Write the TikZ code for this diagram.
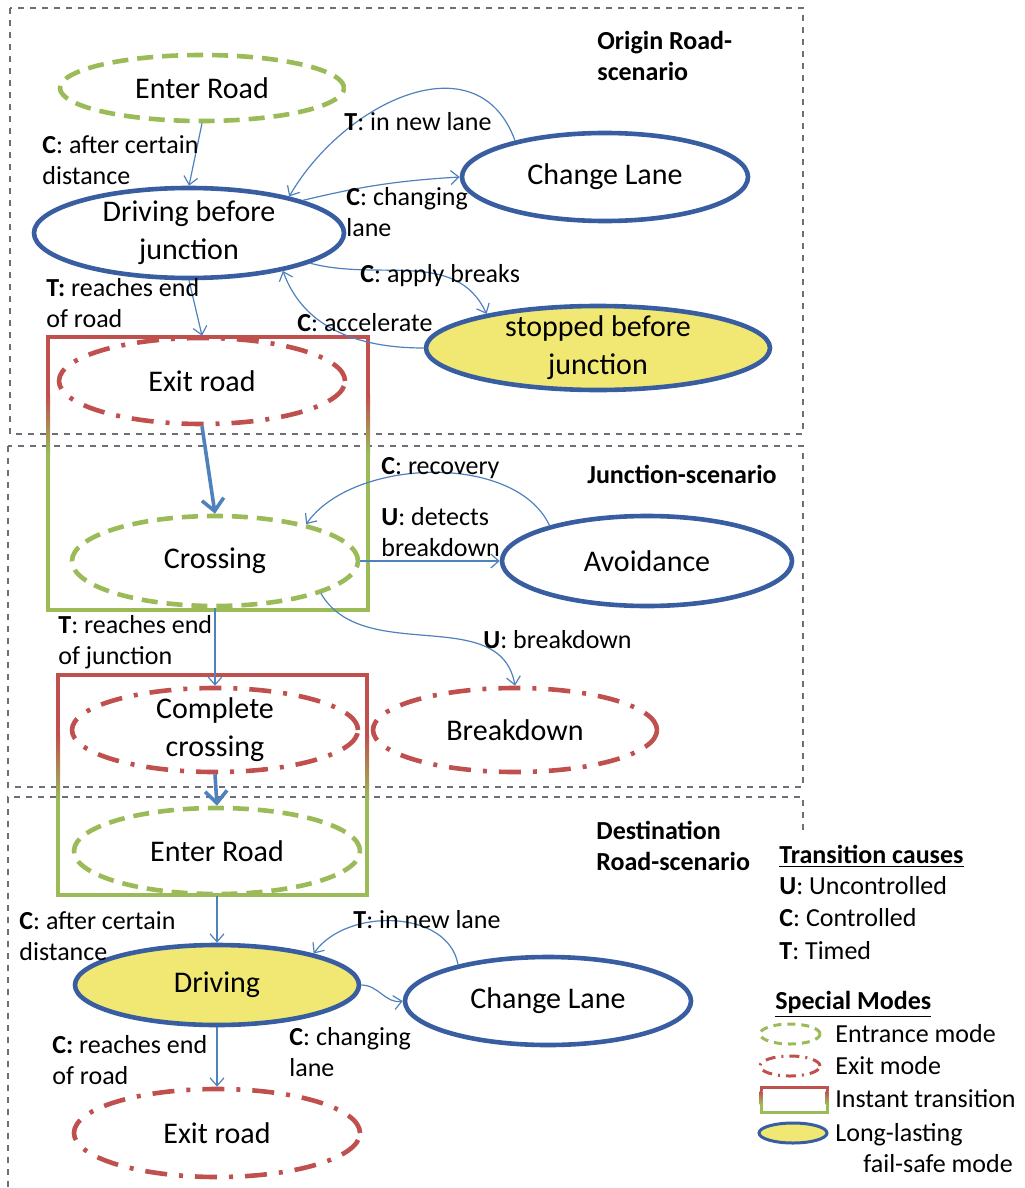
\documentclass[tikz,border=0pt]{standalone}
\usepackage{fontspec}
\setmainfont{Carlito}
\usepackage{tikz}
\usetikzlibrary{arrows.meta,positioning,shapes.geometric}

\definecolor{modeblue}{RGB}{56,93,160}
\definecolor{edgeblue}{RGB}{79,129,189}
\definecolor{modegreen}{RGB}{155,187,89}
\definecolor{modered}{RGB}{192,80,77}
\definecolor{modeyellow}{RGB}{240,232,115}
\definecolor{scengray}{RGB}{110,110,120}

\begin{document}
\begin{tikzpicture}[
  x=0.5pt, y=-0.5pt,
  mstate/.style={ellipse, inner sep=0pt, align=center, font=\fontsize{15}{19}\selectfont, line width=2.3pt},
  mplain/.style={mstate, draw=modeblue},
  mlasting/.style={mstate, draw=modeblue, fill=modeyellow},
  mentry/.style={mstate, draw=modegreen, dash pattern=on 8pt off 4.5pt},
  mexit/.style={mstate, draw=modered, dash pattern=on 11pt off 6pt on 2pt off 6pt},
  lbl/.style={anchor=west, inner sep=0pt, align=left, font=\fontsize{13}{15.5}\selectfont},
  scentitle/.style={lbl, font=\fontsize{13}{15.5}\selectfont\bfseries},
  arr/.style={-{Straight Barb[length=4pt,width=7pt]}, edgeblue, line width=0.6pt},
  bigarr/.style={-{Straight Barb[length=6pt,width=11pt]}, edgeblue, line width=1.8pt},
  scen/.style={draw=scengray, dashed, line width=0.6pt}
]
\useasboundingbox (0,0) rectangle (1024,1188);

\draw[scen] (10,8) rectangle (803,434);
\draw[scen] (8,446) rectangle (803,787);
\draw[scen] (803,830) -- (803,797) -- (8,797) -- (8,1188);

\draw[modered, line width=2pt] (48,337) -- (368,337);
\draw[modegreen, line width=2pt] (48,610) -- (368,610);
\foreach \x in {48,368} {
  \fill[modered] (\x-2,335) rectangle (\x+2,395);
  \shade[top color=modered, bottom color=modegreen] (\x-2,395) rectangle (\x+2,455);
  \fill[modegreen] (\x-2,455) rectangle (\x+2,612);
}
\draw[modered, line width=2pt] (58,675) -- (367,675);
\draw[modegreen, line width=2pt] (58,895) -- (367,895);
\foreach \x in {58,367} {
  \fill[modered] (\x-2,673) rectangle (\x+2,735);
  \shade[top color=modered, bottom color=modegreen] (\x-2,735) rectangle (\x+2,800);
  \fill[modegreen] (\x-2,800) rectangle (\x+2,897);
}

\node[mentry, minimum width=142pt, minimum height=33pt] (enter1) at (202,88) {Enter Road};
\node[mplain, minimum width=143pt, minimum height=44pt] (lane1) at (605,177) {Change Lane};
\node[mplain, minimum width=155pt, minimum height=45pt, inner ysep=-4pt] (drive1) at (189,233) {Driving before\\junction};
\node[mlasting, minimum width=172pt, minimum height=42pt, inner ysep=-4pt] (stop1) at (598,348) {stopped before\\junction};
\node[mexit, minimum width=143pt, minimum height=43pt] (exit1) at (202,381) {Exit road};

\node[mentry, minimum width=143pt, minimum height=45pt] (cross) at (215,561) {Crossing};
\node[mplain, minimum width=145pt, minimum height=45pt] (avoid) at (647,561) {Avoidance};
\node[mexit, minimum width=143pt, minimum height=42pt, inner ysep=-4pt] (complete) at (215,730) {Complete\\crossing};
\node[mexit, minimum width=142pt, minimum height=42pt] (brk) at (515,730) {Breakdown};

\node[mentry, minimum width=143pt, minimum height=43pt] (enter2) at (217,851) {Enter Road};
\node[mlasting, minimum width=142pt, minimum height=40pt] (drive2) at (217,985) {Driving};
\node[mplain, minimum width=143pt, minimum height=44pt] (lane2) at (548,1001) {Change Lane};
\node[mexit, minimum width=143pt, minimum height=44pt] (exit2) at (217,1133) {Exit road};

\node[scentitle] (ttorigin) at (597,56) {Origin Road-\\scenario};
\node[scentitle] (ttjunction) at (587,474) {Junction-scenario};
\node[scentitle] (ttdest) at (596,846) {Destination\\Road-scenario};

\draw[arr] (enter1.south) -- (drive1.north);
\draw[arr] (drive1.16) to[bend left=5] (lane1.west);
\draw[arr] (lane1.158) to[out=110,in=60,looseness=1.2] (drive1.20);
\draw[arr] (drive1.south) -- (exit1.north);
\draw[arr] (drive1.-14) to[out=-15,in=115] (stop1.163);
\draw[arr] (stop1.west) to[out=180,in=-70] (drive1.-22);
\draw[bigarr] (exit1.south) -- (cross.north);
\draw[arr] (cross.east) -- (avoid.west);
\draw[arr] (avoid.160) to[out=115,in=55,looseness=0.85] (cross.22);
\draw[arr] (cross.-17) to[out=-60,in=100] (brk.north);
\draw[arr] (cross.south) -- (complete.north);
\draw[bigarr] (complete.south) -- (enter2.north);
\draw[arr] (enter2.south) -- (drive2.north);
\draw[arr] (drive2.east) to[out=0,in=190] (lane2.west);
\draw[arr] (lane2.158) to[out=100,in=55] (drive2.18);
\draw[arr] (drive2.south) -- (exit2.north);

\node[lbl] (ldist1) at (42,160) {{\bfseries C}: after certain\\distance};
\node[lbl] (lnew1) at (344,122) {{\bfseries T}: in new lane};
\node[lbl] (lchg1) at (346,212) {{\bfseries C}: changing\\lane};
\node[lbl] (lend1) at (46,303) {{\bfseries T:} reaches end\\of road};
\node[lbl] (lbrake) at (360,276) {{\bfseries C}: apply breaks};
\node[lbl] (lacc) at (297,323) {{\bfseries C}: accelerate};
\node[lbl] (lrec) at (381,468) {{\bfseries C}: recovery};
\node[lbl] (ldet) at (381,532) {{\bfseries U}: detects\\breakdown};
\node[lbl] (lendj) at (58,642) {{\bfseries T}: reaches end\\of junction};
\node[lbl] (lbrk) at (483,640) {{\bfseries U}: breakdown};
\node[lbl] (ldist2) at (19,936) {{\bfseries C}: after certain\\distance};
\node[lbl] (lnew2) at (353,920) {{\bfseries T}: in new lane};
\node[lbl] (lchg2) at (289,1052) {{\bfseries C}: changing\\lane};
\node[lbl] (lend2) at (52,1060) {{\bfseries C:} reaches end\\of road};

\node[lbl] (lgcause) at (779,856) {\underline{\bfseries Transition causes}};
\node[lbl] (lgu) at (779,886) {{\bfseries U}: Uncontrolled};
\node[lbl] (lgc) at (779,918) {{\bfseries C}: Controlled};
\node[lbl] (lgt) at (779,951) {{\bfseries T}: Timed};
\node[lbl] (lgmodes) at (775,1004) {\underline{\bfseries Special Modes}};
\node[mentry, line width=1.5pt, minimum width=30pt, minimum height=10pt, dash pattern=on 4pt off 3pt] (icentry) at (790,1034) {};
\node[lbl] (lgentry) at (835,1034) {Entrance mode};
\node[mexit, line width=1.5pt, minimum width=30pt, minimum height=10pt, dash pattern=on 5pt off 3pt on 1pt off 3pt] (icexit) at (790,1066) {};
\node[lbl] (lgexit) at (835,1066) {Exit mode};
\draw[modered, line width=1.5pt] (761,1087) -- (827,1087);
\draw[modegreen, line width=1.5pt] (761,1112) -- (827,1112);
\foreach \x in {761,827} {
  \fill[modered] (\x-1.5,1085.5) rectangle (\x+1.5,1091);
  \shade[top color=modered, bottom color=modegreen] (\x-1.5,1091) rectangle (\x+1.5,1104);
  \fill[modegreen] (\x-1.5,1104) rectangle (\x+1.5,1113.5);
}
\node[lbl] (lginst) at (835,1099) {Instant transition};
\node[mlasting, line width=1.5pt, minimum width=34pt, minimum height=10pt] (iclast) at (793,1133) {};
\node[lbl, align=left] (lglast) at (835,1148) {Long-lasting\\\hspace*{14pt}fail-safe mode};
\end{tikzpicture}
\end{document}
